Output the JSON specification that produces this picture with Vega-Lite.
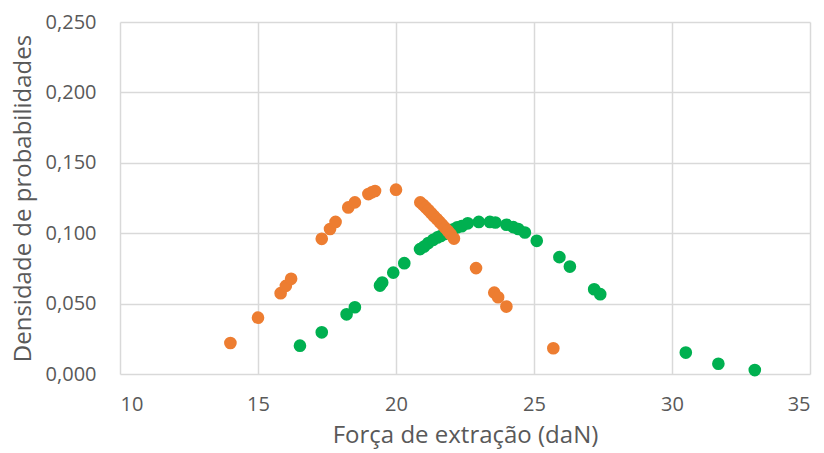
{
  "$schema": "https://vega.github.io/schema/vega-lite/v6.json",
  "autosize": "none",
  "width": 690,
  "height": 352,
  "padding": {"left": 120, "top": 22, "right": 14, "bottom": 79},
  "background": "white",
  "config": {
    "locale": {"number": {"decimal": ",", "thousands": ".", "grouping": [3], "currency": ["", ""]}},
    "view": {"stroke": null},
    "font": "Open Sans",
    "axis": {
      "labelFont": "Open Sans",
      "titleFont": "Open Sans",
      "labelColor": "#595959",
      "titleColor": "#595959",
      "labelFontSize": 20,
      "titleFontSize": 24,
      "titleFontWeight": "normal",
      "gridColor": "#d9d9d9",
      "gridWidth": 1.5,
      "domain": false,
      "ticks": false
    }
  },
  "data": {
    "values": [
      {"serie": "B", "x": 16.52, "y": 0.0201},
      {"serie": "B", "x": 17.31, "y": 0.0296},
      {"serie": "B", "x": 18.21, "y": 0.0424},
      {"serie": "B", "x": 18.51, "y": 0.0474},
      {"serie": "B", "x": 19.42, "y": 0.0628},
      {"serie": "B", "x": 19.5, "y": 0.065},
      {"serie": "B", "x": 19.9, "y": 0.072},
      {"serie": "B", "x": 20.3, "y": 0.0787},
      {"serie": "B", "x": 20.87, "y": 0.0887},
      {"serie": "B", "x": 21.02, "y": 0.0905},
      {"serie": "B", "x": 21.17, "y": 0.093},
      {"serie": "B", "x": 21.35, "y": 0.0953},
      {"serie": "B", "x": 21.5, "y": 0.097},
      {"serie": "B", "x": 21.62, "y": 0.098},
      {"serie": "B", "x": 21.76, "y": 0.0995},
      {"serie": "B", "x": 21.92, "y": 0.101},
      {"serie": "B", "x": 22.08, "y": 0.1028},
      {"serie": "B", "x": 22.22, "y": 0.1042},
      {"serie": "B", "x": 22.38, "y": 0.105},
      {"serie": "B", "x": 22.6, "y": 0.107},
      {"serie": "B", "x": 23.0, "y": 0.108},
      {"serie": "B", "x": 23.4, "y": 0.108},
      {"serie": "B", "x": 23.6, "y": 0.1076},
      {"serie": "B", "x": 24.0, "y": 0.106},
      {"serie": "B", "x": 24.25, "y": 0.1043},
      {"serie": "B", "x": 24.43, "y": 0.103},
      {"serie": "B", "x": 24.67, "y": 0.1005},
      {"serie": "B", "x": 25.1, "y": 0.0946},
      {"serie": "B", "x": 25.92, "y": 0.083},
      {"serie": "B", "x": 26.3, "y": 0.0763},
      {"serie": "B", "x": 27.18, "y": 0.0602},
      {"serie": "B", "x": 27.4, "y": 0.0567},
      {"serie": "B", "x": 30.5, "y": 0.0152},
      {"serie": "B", "x": 31.68, "y": 0.0073},
      {"serie": "B", "x": 33.0, "y": 0.0028},
      {"serie": "A", "x": 14.0, "y": 0.022},
      {"serie": "A", "x": 15.0, "y": 0.040},
      {"serie": "A", "x": 15.82, "y": 0.0574},
      {"serie": "A", "x": 16.01, "y": 0.0626},
      {"serie": "A", "x": 16.2, "y": 0.0676},
      {"serie": "A", "x": 17.31, "y": 0.096},
      {"serie": "A", "x": 17.61, "y": 0.103},
      {"serie": "A", "x": 17.81, "y": 0.108},
      {"serie": "A", "x": 18.27, "y": 0.1183},
      {"serie": "A", "x": 18.51, "y": 0.1219},
      {"serie": "A", "x": 19.0, "y": 0.1278},
      {"serie": "A", "x": 19.12, "y": 0.129},
      {"serie": "A", "x": 19.24, "y": 0.130},
      {"serie": "A", "x": 20.0, "y": 0.1309},
      {"serie": "A", "x": 20.88, "y": 0.1219},
      {"serie": "A", "x": 20.98, "y": 0.1202},
      {"serie": "A", "x": 21.08, "y": 0.1183},
      {"serie": "A", "x": 21.18, "y": 0.1163},
      {"serie": "A", "x": 21.28, "y": 0.1142},
      {"serie": "A", "x": 21.38, "y": 0.1121},
      {"serie": "A", "x": 21.48, "y": 0.1101},
      {"serie": "A", "x": 21.58, "y": 0.1080},
      {"serie": "A", "x": 21.68, "y": 0.1059},
      {"serie": "A", "x": 21.78, "y": 0.1038},
      {"serie": "A", "x": 21.88, "y": 0.1016},
      {"serie": "A", "x": 21.98, "y": 0.0993},
      {"serie": "A", "x": 22.1, "y": 0.0962},
      {"serie": "A", "x": 22.9, "y": 0.0752},
      {"serie": "A", "x": 23.56, "y": 0.0578},
      {"serie": "A", "x": 23.7, "y": 0.0545},
      {"serie": "A", "x": 24.0, "y": 0.0479},
      {"serie": "A", "x": 25.7, "y": 0.0183}
    ]
  },
  "mark": {"type": "point", "filled": true, "opacity": 1, "size": 160},
  "encoding": {
    "x": {
      "field": "x",
      "type": "quantitative",
      "scale": {"domain": [10, 35], "nice": false, "zero": false},
      "axis": {"values": [10, 15, 20, 25, 30, 35], "title": "Força de extração (daN)", "labelPadding": 20, "titlePadding": 9, "format": "d"}
    },
    "y": {
      "field": "y",
      "type": "quantitative",
      "scale": {"domain": [0, 0.25], "nice": false},
      "axis": {"values": [0, 0.05, 0.1, 0.15, 0.2, 0.25], "format": ".3f", "title": "Densidade de probabilidades", "labelPadding": 24, "titlePadding": 10}
    },
    "color": {
      "field": "serie",
      "type": "nominal",
      "scale": {"domain": ["A", "B"], "range": ["#ED7D31", "#00B050"]},
      "legend": null
    }
  }
}
